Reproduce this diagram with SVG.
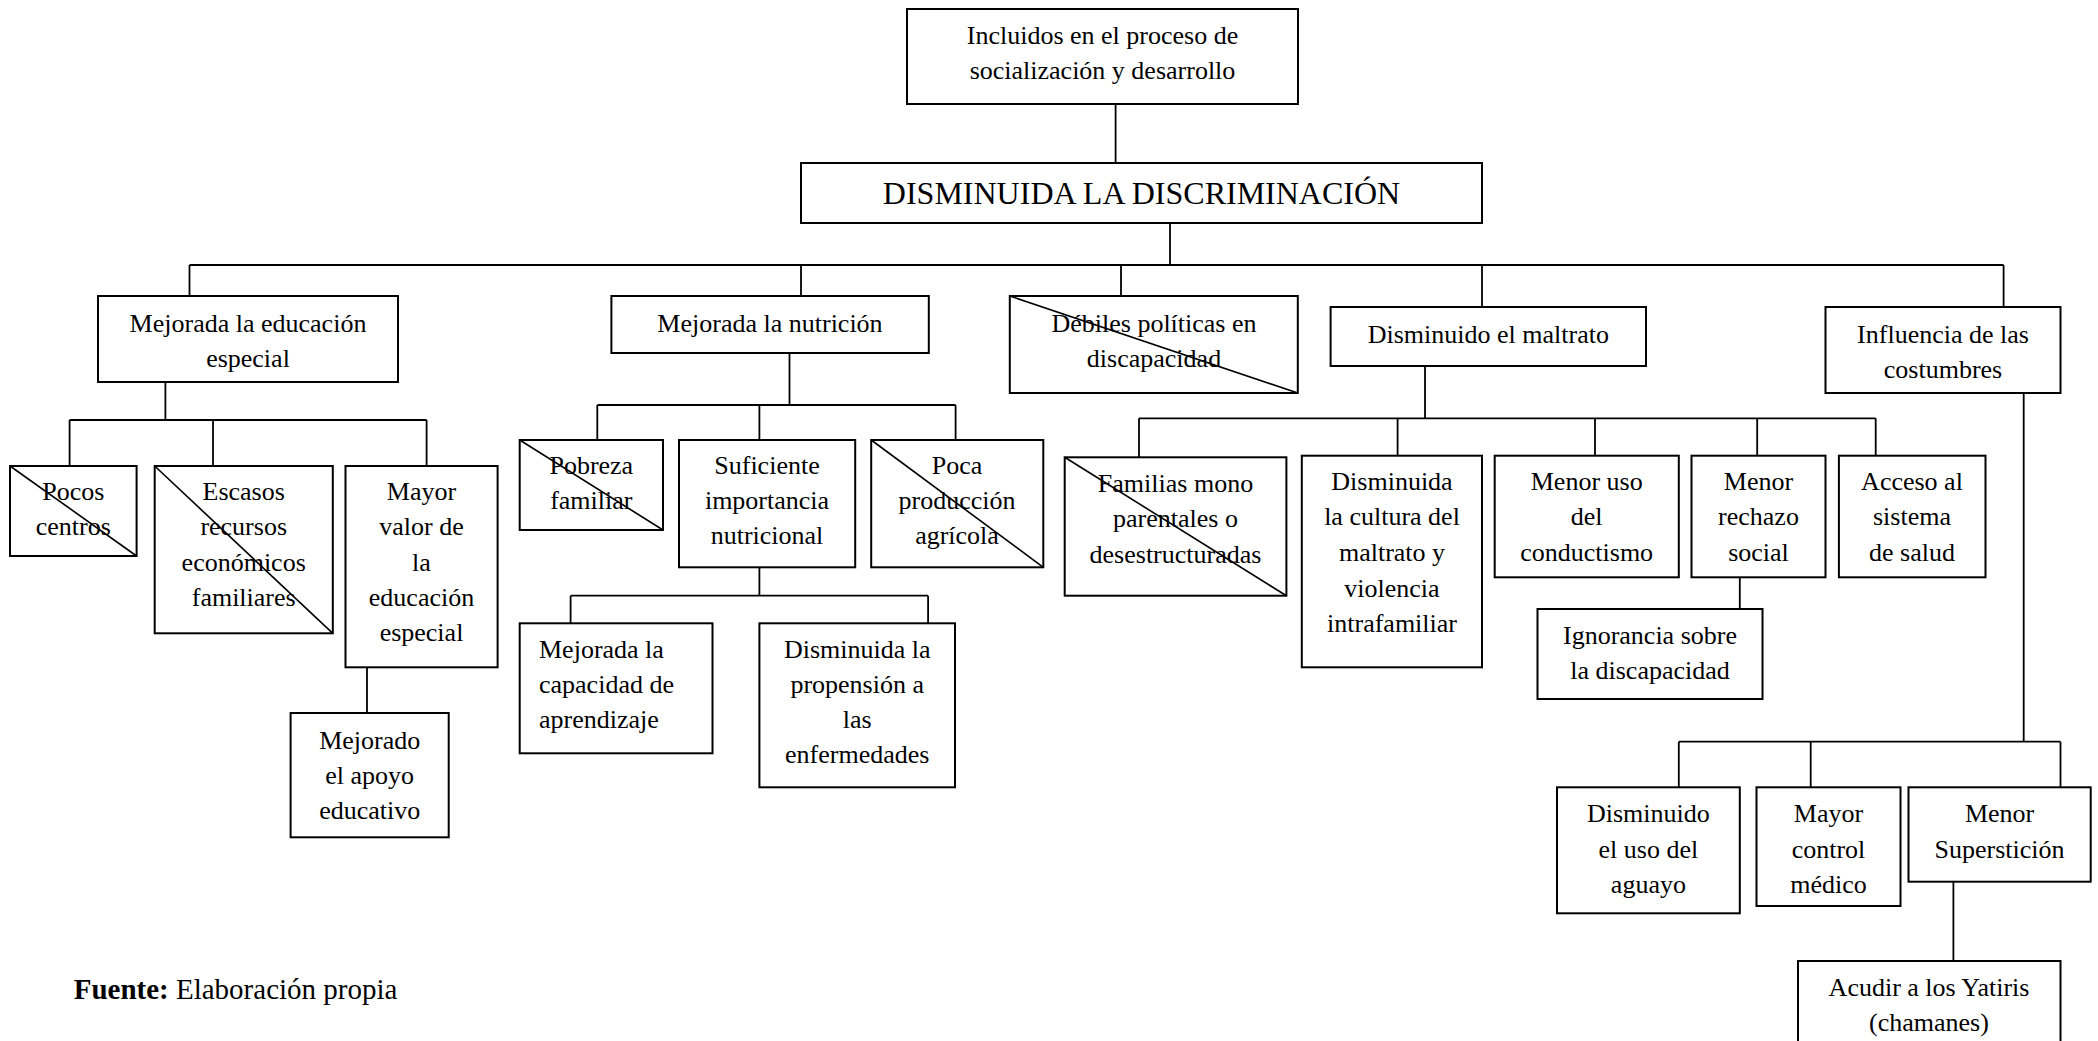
<svg xmlns="http://www.w3.org/2000/svg" width="2098" height="1041" viewBox="0 0 2098 1041">
<style>
.box{fill:#fff;stroke:#000;stroke-width:2}
.x{stroke:#000;stroke-width:1.6}
.c{fill:none;stroke:#000;stroke-width:1.8}
text{font-family:"Liberation Serif","Times New Roman",serif;font-size:26px;fill:#000;text-anchor:middle}
.title{font-size:32px}
.src{font-size:29px;text-anchor:start}
</style>
<rect width="2098" height="1041" fill="#fff"/>
<g id="connectors" class="c">
<path d="M1115.6 104V163"/>
<path d="M1170 223V265"/>
<path d="M189.5 265H2003.6"/>
<path d="M189.5 265V296M801 265V296M1121 265V296M1482 265V307M2003.6 265V307"/>
<path d="M165.4 382V420M69.6 420H426.6M69.6 420V466M213 420V466M426.6 420V466"/>
<path d="M367 667V713"/>
<path d="M789.5 353V405M597.3 405H955.6M597.3 405V440M759.4 405V440M955.6 405V440"/>
<path d="M759.4 567V595.7M570.6 595.7H928.1M570.6 595.7V623M928.1 595.7V623"/>
<path d="M1425 366V418.3M1139 418.3H1875.7M1139 418.3V457M1397.6 418.3V456M1595 418.3V456M1757.2 418.3V456M1875.7 418.3V456"/>
<path d="M1739.8 577V609"/>
<path d="M2023.7 393V741.7M1678.8 741.7H2060.5M1678.8 741.7V787M1810.7 741.7V787M2060.5 741.7V787"/>
<path d="M1953.4 882V961"/>
</g>
<g id="n-incluidos"><rect class="box" x="907" y="9" width="391" height="95"/><text x="1102.5" y="43.5">Incluidos en el proceso de</text><text x="1102.5" y="78.5">socialización y desarrollo</text></g>
<g id="n-disminuida"><rect class="box" x="801" y="163" width="681" height="60"/><text class="title" x="1141.5" y="204">DISMINUIDA LA DISCRIMINACIÓN</text></g>
<g id="n-edu"><rect class="box" x="98" y="296" width="300" height="86"/><text x="248" y="331.7">Mejorada la educación</text><text x="248" y="366.7">especial</text></g>
<g id="n-nutricion"><rect class="box" x="611.4" y="296" width="317.4" height="57"/><text x="770" y="331.7">Mejorada la nutrición</text></g>
<g id="n-debiles"><rect class="box" x="1009.8" y="296" width="288" height="97"/><line class="x" x1="1009.8" y1="296" x2="1297.8" y2="393"/><text x="1154" y="331.7">Débiles políticas en</text><text x="1154" y="366.7">discapacidad</text></g>
<g id="n-maltrato"><rect class="box" x="1330.6" y="307" width="315.4" height="59"/><text x="1488.3" y="343.3">Disminuido el maltrato</text></g>
<g id="n-costumbres"><rect class="box" x="1825.5" y="307" width="235" height="86"/><text x="1943" y="343.3">Influencia de las</text><text x="1943" y="378.3">costumbres</text></g>
<g id="n-pocos"><rect class="box" x="10" y="466" width="126.6" height="90"/><line class="x" x1="10" y1="466" x2="136.6" y2="556"/><text x="73.3" y="500">Pocos</text><text x="73.3" y="535">centros</text></g>
<g id="n-escasos"><rect class="box" x="154.7" y="466" width="178.1" height="167.3"/><line class="x" x1="154.7" y1="466" x2="332.8" y2="633.3"/><text x="243.7" y="500">Escasos</text><text x="243.7" y="535">recursos</text><text x="243.7" y="570.7">económicos</text><text x="243.7" y="606">familiares</text></g>
<g id="n-mayorvalor"><rect class="box" x="345.5" y="466" width="152.1" height="201.3"/><text x="421.5" y="500">Mayor</text><text x="421.5" y="535">valor de</text><text x="421.5" y="570.7">la</text><text x="421.5" y="606">educación</text><text x="421.5" y="641.3">especial</text></g>
<g id="n-apoyo"><rect class="box" x="290.6" y="713" width="158.1" height="124.3"/><text x="369.7" y="749.3">Mejorado</text><text x="369.7" y="784.3">el apoyo</text><text x="369.7" y="819">educativo</text></g>
<g id="n-pobreza"><rect class="box" x="519.7" y="440" width="143.3" height="90"/><line class="x" x1="519.7" y1="440" x2="663" y2="530"/><text x="591.3" y="474">Pobreza</text><text x="591.3" y="509">familiar</text></g>
<g id="n-suficiente"><rect class="box" x="679" y="440" width="176.2" height="127.3"/><text x="767" y="474">Suficiente</text><text x="767" y="509">importancia</text><text x="767" y="544">nutricional</text></g>
<g id="n-poca"><rect class="box" x="871.2" y="440" width="172.1" height="127.3"/><line class="x" x1="871.2" y1="440" x2="1043.3" y2="567.3"/><text x="957" y="474">Poca</text><text x="957" y="509">producción</text><text x="957" y="544">agrícola</text></g>
<g id="n-capacidad"><rect class="box" x="519.7" y="623.3" width="192.8" height="130"/><text style="text-anchor:start" x="539" y="658.3">Mejorada la</text><text style="text-anchor:start" x="539" y="693.3">capacidad de</text><text style="text-anchor:start" x="539" y="728.3">aprendizaje</text></g>
<g id="n-propension"><rect class="box" x="759.4" y="623.3" width="195.6" height="164"/><text x="857.2" y="658.3">Disminuida la</text><text x="857.2" y="693.3">propensión a</text><text x="857.2" y="728.3">las</text><text x="857.2" y="763.3">enfermedades</text></g>
<g id="n-familias"><rect class="box" x="1064.7" y="457.3" width="221.7" height="138.4"/><line class="x" x1="1064.7" y1="457.3" x2="1286.4" y2="595.7"/><text x="1175.5" y="491.7">Familias mono</text><text x="1175.5" y="527.3">parentales o</text><text x="1175.5" y="562.7">desestructuradas</text></g>
<g id="n-cultura"><rect class="box" x="1301.8" y="455.7" width="180.2" height="211.6"/><text x="1392" y="490">Disminuida</text><text x="1392" y="525">la cultura del</text><text x="1392" y="561">maltrato y</text><text x="1392" y="596.7">violencia</text><text x="1392" y="631.7">intrafamiliar</text></g>
<g id="n-conductismo"><rect class="box" x="1494.7" y="455.7" width="184.1" height="121.6"/><text x="1586.7" y="490">Menor uso</text><text x="1586.7" y="525">del</text><text x="1586.7" y="561">conductismo</text></g>
<g id="n-rechazo"><rect class="box" x="1691.5" y="455.7" width="134" height="121.6"/><text x="1758.5" y="490">Menor</text><text x="1758.5" y="525">rechazo</text><text x="1758.5" y="561">social</text></g>
<g id="n-acceso"><rect class="box" x="1838.9" y="455.7" width="146.6" height="121.6"/><text x="1912" y="490">Acceso al</text><text x="1912" y="525">sistema</text><text x="1912" y="561">de salud</text></g>
<g id="n-ignorancia"><rect class="box" x="1537.5" y="609" width="225" height="90"/><text x="1650" y="644.3">Ignorancia sobre</text><text x="1650" y="679.3">la discapacidad</text></g>
<g id="n-aguayo"><rect class="box" x="1557" y="787.3" width="182.8" height="126"/><text x="1648.4" y="822.3">Disminuido</text><text x="1648.4" y="857.7">el uso del</text><text x="1648.4" y="892.7">aguayo</text></g>
<g id="n-control"><rect class="box" x="1756.5" y="787.3" width="144" height="118.7"/><text x="1828.5" y="822.3">Mayor</text><text x="1828.5" y="857.7">control</text><text x="1828.5" y="892.7">médico</text></g>
<g id="n-supersticion"><rect class="box" x="1908.5" y="787.3" width="182.2" height="94.4"/><text x="1999.6" y="822.3">Menor</text><text x="1999.6" y="857.7">Superstición</text></g>
<g id="n-yatiris"><rect class="box" x="1798" y="961" width="262.5" height="90"/><text x="1929" y="996">Acudir a los Yatiris</text><text x="1929" y="1031">(chamanes)</text></g>
<text class="src" x="73.7" y="999"><tspan font-weight="bold">Fuente:</tspan> Elaboración propia</text>
</svg>
